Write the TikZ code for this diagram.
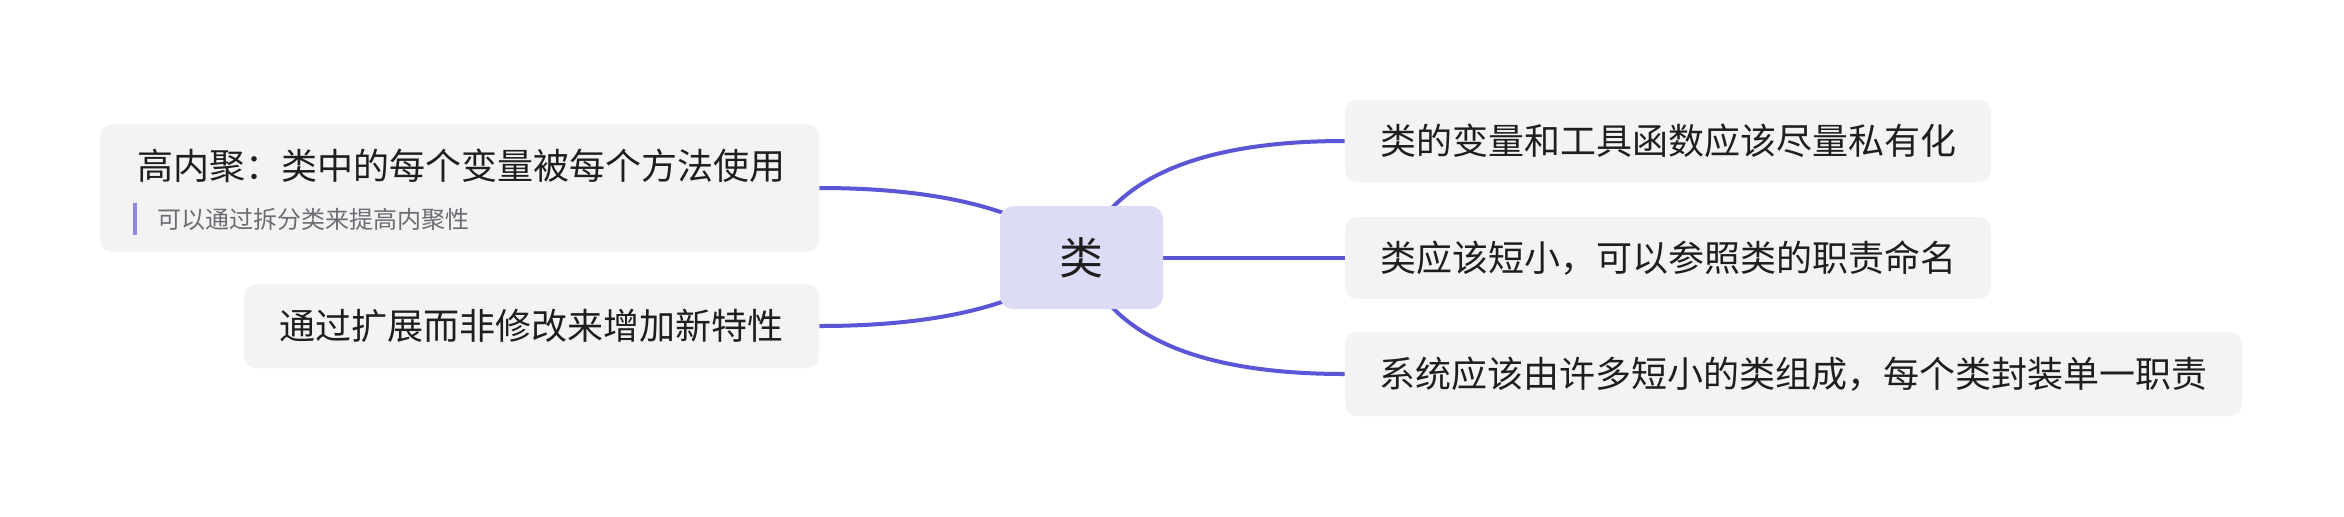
\documentclass[tikz,border=0pt]{standalone}
\usepackage{fontspec}
\setmainfont{Noto Sans CJK SC}
\usetikzlibrary{calc,backgrounds}
\definecolor{linec}{HTML}{5A56D6}
\definecolor{rootfill}{HTML}{DDDCF7}
\definecolor{boxfill}{HTML}{F3F3F4}
\definecolor{txt}{HTML}{1E1E1E}
\definecolor{subtxt}{HTML}{6C6C72}
\definecolor{barc}{HTML}{8B87E2}
\tikzset{
  rootbox/.style={fill=rootfill, rounded corners=6.5pt, minimum width=81.5pt, minimum height=51.5pt, inner sep=0pt, text=txt, font=\fontsize{22pt}{26pt}\selectfont},
  leafbox/.style={fill=boxfill, rounded corners=6pt, inner sep=0pt, text=txt, font=\fontsize{18pt}{22pt}\selectfont},
  conn/.style={draw=linec, line width=2pt},
  maintext/.style={inner sep=0pt, anchor=west, text=txt, font=\fontsize{18pt}{22pt}\selectfont},
  subtext/.style={inner sep=0pt, anchor=west, text=subtxt, font=\fontsize{12pt}{14pt}\selectfont},
}
\begin{document}
\begin{tikzpicture}[x=0.5pt, y=-0.5pt]
\useasboundingbox (0,0) rectangle (2344,516);
% nodes
\node[rootbox] (C) at (1081.5,257.5) {类};
\node[leafbox, minimum width=323pt, minimum height=41pt] (R1) at (1668,141) {类的变量和工具函数应该尽量私有化};
\node[leafbox, minimum width=323pt, minimum height=41pt] (R2) at (1668,258) {类应该短小，可以参照类的职责命名};
\node[leafbox, minimum width=448.5pt, minimum height=42pt] (R3) at (1793.5,374) {系统应该由许多短小的类组成，每个类封装单一职责};
\node[leafbox, minimum width=359.5pt, minimum height=64pt] (L1) at (459.5,188) {};
\node[leafbox, minimum width=287.5pt, minimum height=42pt] (L2) at (531.5,326) {通过扩展而非修改来增加新特性};
\node[maintext] (L1a) at (137,166) {高内聚：类中的每个变量被每个方法使用};
\node[subtext] (L1b) at (157,219) {可以通过拆分类来提高内聚性};
\draw[barc, line width=2pt] (135,203) -- (135,235);
% helper coordinates
\coordinate (cr) at ([xshift=20.5pt]C.center);
\coordinate (cl) at ([xshift=-37.5pt]C.center);
\coordinate (k1) at (cr |- R1.west);
\coordinate (k3) at (cr |- R3.west);
\coordinate (k4) at (cl |- L1.east);
\coordinate (k5) at (cl |- L2.east);
\begin{pgfonlayer}{background}
\fill[white] (0,0) rectangle (2344,516);
\draw[conn] (C.center) .. controls ($(C.center)!0.667!(k1)$) and ($(R1.west)!0.667!(k1)$) .. (R1.west);
\draw[conn] (C.center) -- (C.center -| R2.west);
\draw[conn] (C.center) .. controls ($(C.center)!0.667!(k3)$) and ($(R3.west)!0.667!(k3)$) .. (R3.west);
\draw[conn] (C.center) .. controls ($(C.center)!0.667!(k4)$) and ($(L1.east)!0.667!(k4)$) .. (L1.east);
\draw[conn] (C.center) .. controls ($(C.center)!0.667!(k5)$) and ($(L2.east)!0.667!(k5)$) .. (L2.east);
\end{pgfonlayer}
\end{tikzpicture}
\end{document}
